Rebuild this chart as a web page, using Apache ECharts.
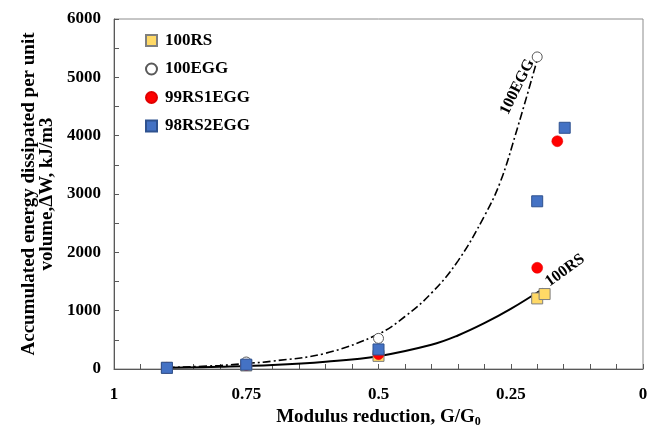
<!DOCTYPE html>
<html>
<head>
<meta charset="utf-8">
<script src="https://cdn.jsdelivr.net/npm/echarts@6/dist/echarts.min.js"></script>
<style>
  html,body{margin:0;padding:0;background:#fff;}
  #main{width:662px;height:426px;}
</style>
</head>
<body>
<div id="main"></div>
<script>
// measured points (G/G0 , energy kJ/m3)
const xRS = [0.9, 0.75, 0.5, 0.2, 0.186];
const yRS = [20, 60, 225, 1210, 1285];
const xEGG = [0.9, 0.75, 0.5, 0.2];
const yEGG = [25, 120, 525, 5350];
const x99 = [0.9, 0.75, 0.5, 0.2, 0.162];
const y99 = [20, 70, 255, 1735, 3905];
const x98 = [0.9, 0.75, 0.5, 0.2, 0.148];
const y98 = [20, 75, 335, 2875, 4135];

// trend lines
const fitRSx = [0.9, 0.8, 0.7, 0.6, 0.5, 0.4, 0.35, 0.3, 0.25, 0.188];
const fitRSy = [20, 38, 68, 125, 220, 415, 575, 785, 1030, 1380];
const fitEGGx = [0.9, 0.8, 0.75, 0.7, 0.6, 0.5, 0.45, 0.4, 0.35, 0.3, 0.27, 0.24, 0.2];
const fitEGGy = [25, 60, 95, 135, 270, 600, 900, 1300, 1850, 2620, 3200, 4050, 5300];

const font = 'Liberation Serif, Times New Roman, serif';

function pairs(xs, ys){
  return xs.map((x, i) => [x, ys[i]]);
}

// curve name at the end of the fit line (offset is in the rotated frame)
function curveLabel(text, offset, rot){
  return {
    show: true, formatter: text, offset: offset, rotate: rot,
    align: 'center', verticalAlign: 'middle', distance: 0,
    fontFamily: font, fontWeight: 'bold', fontSize: 16, color: '#000'
  };
}

const chart = echarts.init(document.getElementById('main'));
const option = {
  animation: false,
  backgroundColor: '#fff',
  grid: {left: 114, right: 19, top: 19, bottom: 57, outerBoundsMode: 'none', show: true, borderColor: '#8c8c8c', borderWidth: 1},
  legend: {
    orient: 'vertical', left: 140, top: 27, itemGap: 11.5,
    itemWidth: 11, itemHeight: 11,
    data: ['100RS', '100EGG', '99RS1EGG', '98RS2EGG'],
    textStyle: {fontFamily: font, fontWeight: 'bold', fontSize: 17, color: '#000', padding: [0, 0, 0, 3]}
  },
  xAxis: {
    type: 'value', min: 0, max: 1, interval: 0.25, inverse: true,
    name: 'Modulus reduction, G/G{s|0}',
    nameLocation: 'middle', nameGap: 35,
    nameTextStyle: {
      fontFamily: font, fontWeight: 'bold', fontSize: 19, color: '#000',
      rich: {s: {fontFamily: font, fontWeight: 'bold', fontSize: 12, verticalAlign: 'bottom', padding: [9, 0, 0, 0]}}
    },
    axisLine: {onZero: false, lineStyle: {color: '#595959', width: 1}},
    axisTick: {inside: true, length: 5, lineStyle: {color: '#595959'}},
    minorTick: {show: true, splitNumber: 5, length: 5, lineStyle: {color: '#595959'}},
    splitLine: {show: false},
    axisLabel: {
      margin: 17, fontFamily: font, fontWeight: 'bold', fontSize: 17, color: '#000',
      formatter: v => String(+v.toFixed(2))
    }
  },
  yAxis: {
    type: 'value', min: 0, max: 6000, interval: 1000,
    name: 'Accumulated energy dissipated per unit\nvolume,\u0394W, kJ/m3',
    nameLocation: 'middle', nameGap: 50, nameRotate: 90,
    nameTextStyle: {fontFamily: font, fontWeight: 'bold', fontSize: 19, color: '#000', lineHeight: 18},
    axisLine: {show: true, onZero: false, lineStyle: {color: '#595959', width: 1}},
    axisTick: {show: true, inside: true, length: 5, lineStyle: {color: '#595959'}},
    minorTick: {show: true, splitNumber: 2, length: 5, lineStyle: {color: '#595959'}},
    splitLine: {show: false},
    axisLabel: {
      margin: 13, fontFamily: font, fontWeight: 'bold', fontSize: 17, color: '#000',
      formatter: v => String(v)
    }
  },
  series: [
    {
      name: 'fitRS', type: 'line', smooth: 0.4, showSymbol: false, z: 1,
      lineStyle: {color: '#000', width: 2},
      endLabel: curveLabel('100RS', [28, -2], 36),
      data: pairs(fitRSx, fitRSy)
    },
    {
      name: 'fitEGG', type: 'line', smooth: 0.4, showSymbol: false, z: 1,
      lineStyle: {color: '#000', width: 1.6, type: [8, 3, 2, 3]},
      endLabel: curveLabel('100EGG', [-33, -6], 64),
      data: pairs(fitEGGx, fitEGGy)
    },
    {
      name: '100RS', type: 'scatter', symbol: 'rect', symbolSize: 11, z: 3,
      itemStyle: {color: '#FFD966', borderColor: '#7f7f7f', borderWidth: 1, opacity: 1},
      data: pairs(xRS, yRS)
    },
    {
      name: '100EGG', type: 'scatter', symbol: 'circle', symbolSize: 10, z: 3,
      itemStyle: {color: '#fff', borderColor: '#595959', borderWidth: 1, opacity: 1},
      data: pairs(xEGG, yEGG)
    },
    {
      name: '99RS1EGG', type: 'scatter', symbol: 'circle', symbolSize: 11, z: 3,
      itemStyle: {color: '#FF0000', borderColor: '#e00000', borderWidth: 0.5, opacity: 1},
      data: pairs(x99, y99)
    },
    {
      name: '98RS2EGG', type: 'scatter', symbol: 'rect', symbolSize: 11, z: 3,
      itemStyle: {color: '#4472C4', borderColor: '#2F528F', borderWidth: 1, opacity: 1},
      data: pairs(x98, y98)
    }
  ]
};
chart.setOption(option);
</script>
</body>
</html>
